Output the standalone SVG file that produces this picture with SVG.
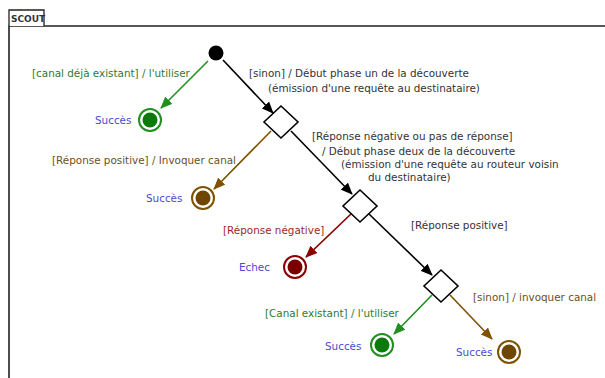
<svg xmlns="http://www.w3.org/2000/svg" width="605" height="378" viewBox="0 0 605 378">
<style>
text{font-family:"DejaVu Sans","Liberation Sans",sans-serif;font-size:10.4px}
.k{fill:#333}.g{fill:#2f7a2f}.b{fill:#6e4e1e}.r{fill:#9a2a2a}.u{fill:#4a4ad0}
.lk{stroke:#000;stroke-width:1.6;fill:none}
.lg{stroke:#1f8f1f;stroke-width:1.6;fill:none}
.lb{stroke:#7f5200;stroke-width:1.6;fill:none}
.lr{stroke:#8b0000;stroke-width:1.6;fill:none}
.dia{fill:#fff;stroke:#000;stroke-width:1.6}
</style>
<defs>
<marker id="ak" markerWidth="12" markerHeight="10" refX="11" refY="5" orient="auto" markerUnits="userSpaceOnUse"><path d="M0,0 L12,5 L0,10 Z" fill="#000"/></marker>
<marker id="ag" markerWidth="12" markerHeight="10" refX="11" refY="5" orient="auto" markerUnits="userSpaceOnUse"><path d="M0,0 L12,5 L0,10 Z" fill="#1f8f1f"/></marker>
<marker id="ab" markerWidth="12" markerHeight="10" refX="11" refY="5" orient="auto" markerUnits="userSpaceOnUse"><path d="M0,0 L12,5 L0,10 Z" fill="#7f5200"/></marker>
<marker id="ar" markerWidth="12" markerHeight="10" refX="11" refY="5" orient="auto" markerUnits="userSpaceOnUse"><path d="M0,0 L12,5 L0,10 Z" fill="#8b0000"/></marker>
</defs>
<rect width="605" height="378" fill="#fff"/>
<g id="frame">
<path d="M9,378 V26 H605" fill="none" stroke="#222" stroke-width="1.6"/>
<path d="M9,26 V10 H44 V26" fill="#fff" stroke="#222" stroke-width="1.3"/>
<text x="11" y="22" style="font-size:9px;font-weight:bold" fill="#333">SCOUT</text>
</g>
<g id="connectors">
<line class="lg" x1="208" y1="61" x2="161" y2="108" marker-end="url(#ag)"/>
<line class="lk" x1="223" y1="60" x2="273" y2="113" marker-end="url(#ak)"/>
<line class="lb" x1="271" y1="131" x2="214" y2="189" marker-end="url(#ab)"/>
<line class="lk" x1="291" y1="131" x2="352" y2="194" marker-end="url(#ak)"/>
<line class="lr" x1="351" y1="214" x2="306" y2="257" marker-end="url(#ar)"/>
<line class="lk" x1="369" y1="214" x2="432" y2="275" marker-end="url(#ak)"/>
<line class="lg" x1="432" y1="295" x2="394" y2="334" marker-end="url(#ag)"/>
<line class="lb" x1="450" y1="295" x2="492" y2="339" marker-end="url(#ab)"/>
<text class="g" x="32" y="77">[canal déjà existant] / l'utiliser</text>
<text class="k" x="249" y="77">[sinon] / Début phase un de la découverte</text>
<text class="k" x="268" y="92">(émission d'une requête au destinataire)</text>
<text class="b" x="52" y="164">[Réponse positive] / Invoquer canal</text>
<text class="k" x="312" y="140">[Réponse négative ou pas de réponse]</text>
<text class="k" x="322" y="155">/ Début phase deux de la découverte</text>
<text class="k" x="341" y="168">(émission d'une requête au routeur voisin</text>
<text class="k" x="368" y="181">du destinataire)</text>
<text class="r" x="223" y="234">[Réponse négative]</text>
<text class="k" x="411" y="229">[Réponse positive]</text>
<text class="g" x="265" y="317">[Canal existant] / l'utiliser</text>
<text class="b" x="473" y="301">[sinon] / invoquer canal</text>
</g>
<g id="start"><circle cx="216" cy="53" r="7.5" fill="#000"/></g>
<g id="final1"><circle cx="150" cy="120" r="11" fill="#fff" stroke="#1f8f1f" stroke-width="2"/><circle cx="150" cy="120" r="7.5" fill="#0a7a0a"/><text class="u" x="95" y="124">Succès</text></g>
<g id="decision1"><polygon class="dia" points="281,106 298,122 281,138 264,122"/></g>
<g id="final2"><circle cx="203" cy="198" r="11" fill="#fff" stroke="#7f5200" stroke-width="2"/><circle cx="203" cy="198" r="7.5" fill="#6e4600"/><text class="u" x="146" y="202">Succès</text></g>
<g id="decision2"><polygon class="dia" points="360,190 377,206 360,222 343,206"/></g>
<g id="final3"><circle cx="295" cy="267" r="11" fill="#fff" stroke="#8b0000" stroke-width="2"/><circle cx="295" cy="267" r="7.5" fill="#7a0000"/><text class="u" x="239" y="271">Echec</text></g>
<g id="decision3"><polygon class="dia" points="441,270 458,286 441,302 424,286"/></g>
<g id="final4"><circle cx="382" cy="345" r="11" fill="#fff" stroke="#1f8f1f" stroke-width="2"/><circle cx="382" cy="345" r="7.5" fill="#0a7a0a"/><text class="u" x="325" y="350">Succès</text></g>
<g id="final5"><circle cx="509" cy="352" r="11" fill="#fff" stroke="#7f5200" stroke-width="2"/><circle cx="509" cy="352" r="7.5" fill="#6e4600"/><text class="u" x="456" y="356">Succès</text></g>
</svg>
